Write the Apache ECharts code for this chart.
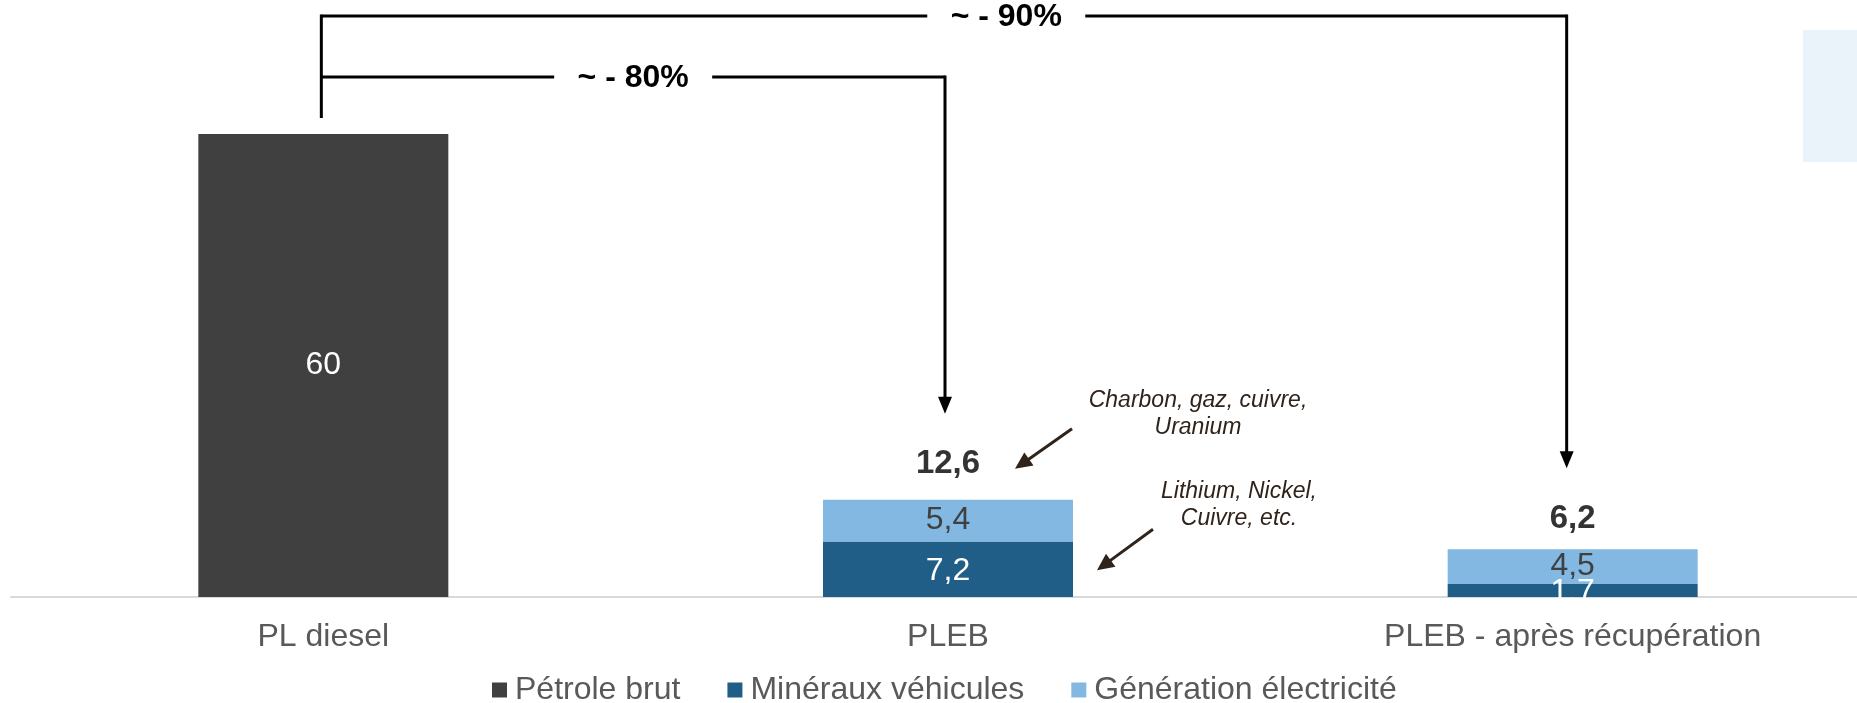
<!DOCTYPE html>
<html>
<head>
<meta charset="utf-8">
<script src="https://cdn.jsdelivr.net/npm/echarts@6/dist/echarts.min.js"></script>
<style>
  html, body { margin: 0; padding: 0; background: #fff; }
  #chart { width: 1857px; height: 703px; }
</style>
</head>
<body>
<div id="chart"></div>
<script>
  // données
  var categories = ['PL diesel', 'PLEB', 'PLEB - après récupération'];
  var petrole = [60, null, null];
  var mineraux = [null, 7.2, 1.7];
  var generation = [null, 5.4, 4.5];
  var totals = [null, 12.6, 6.2];
  var reductions = ['~ - 80%', '~ - 90%'];
  var noteGeneration = 'Charbon, gaz, cuivre,\nUranium';
  var noteMineraux = 'Lithium, Nickel,\nCuivre, etc.';

  var FONT = 'Liberation Sans, Arial, sans-serif';
  var chart = echarts.init(document.getElementById('chart'));

  function fr(v) {
    return String(v).replace('.', ',');
  }

  var option = {
    animation: false,
    textStyle: { fontFamily: FONT },
    // la dernière catégorie déborde à droite du cadre
    grid: { left: 11, right: -28, top: 134, bottom: 106, outerBoundsMode: 'none' },
    legend: {
      data: ['Pétrole brut', 'Minéraux véhicules', 'Génération électricité'],
      left: 487,
      top: 669,
      icon: 'rect',
      itemWidth: 15,
      itemHeight: 15,
      itemGap: 47,
      textStyle: { fontSize: 32, color: '#595959', fontFamily: FONT, padding: [0, 0, 0, 3] }
    },
    xAxis: {
      type: 'category',
      data: categories,
      axisLine: { lineStyle: { color: '#d9d9d9', width: 2 } },
      axisTick: { show: false },
      axisLabel: { fontSize: 32, color: '#595959', margin: 24, fontFamily: FONT }
    },
    yAxis: {
      type: 'value',
      min: 0,
      max: 60,
      show: false,
      splitLine: { show: false }
    },
    series: [
      {
        name: 'Pétrole brut',
        type: 'bar',
        stack: 'total',
        barWidth: 250,
        data: petrole,
        itemStyle: { color: '#404040' },
        label: { show: true, position: 'inside', color: '#fff', fontSize: 32, formatter: function (p) { return fr(p.value); } }
      },
      {
        name: 'Minéraux véhicules',
        type: 'bar',
        stack: 'total',
        barWidth: 250,
        data: mineraux,
        itemStyle: { color: '#205e87' },
        label: { show: true, position: 'inside', color: '#fff', fontSize: 32, offset: [0, 2], formatter: function (p) { return fr(p.value); } }
      },
      {
        name: 'Génération électricité',
        type: 'bar',
        stack: 'total',
        barWidth: 250,
        data: generation,
        itemStyle: { color: '#82b8e1' },
        label: { show: true, position: 'inside', color: '#404040', fontSize: 32, formatter: function (p) { return fr(p.value); } }
      },
      {
        name: 'Total',
        type: 'scatter',
        data: totals.map(function (v, i) {
          return { value: v, label: { distance: i === 2 ? 13 : 19 } };
        }),
        symbolSize: 1,
        itemStyle: { color: 'rgba(0,0,0,0)' },
        label: {
          show: true, position: 'top',
          color: '#000', fontSize: 33, fontWeight: 'bold',
          formatter: function (p) { return fr(p.value); }
        }
      }
    ]
  };
  chart.setOption(option);

  // flèches et accolades, placées à partir des axes
  function px(i, v) {
    return chart.convertToPixel({ xAxisIndex: 0, yAxisIndex: 0 }, [i, v]);
  }
  function head(tip, from, len, half, color) {
    var dx = tip[0] - from[0], dy = tip[1] - from[1];
    var d = Math.sqrt(dx * dx + dy * dy), ux = dx / d, uy = dy / d;
    var bx = tip[0] - ux * len, by = tip[1] - uy * len;
    return {
      type: 'polygon',
      shape: { points: [[tip[0], tip[1]], [bx - uy * half, by + ux * half], [bx + uy * half, by - ux * half]] },
      style: { fill: color }
    };
  }
  function seg(a, b, color, w) {
    return { type: 'line', shape: { x1: a[0], y1: a[1], x2: b[0], y2: b[1] }, style: { stroke: color, lineWidth: w } };
  }
  function arrow(from, tip, color, w, len, half) {
    var dx = tip[0] - from[0], dy = tip[1] - from[1];
    var d = Math.sqrt(dx * dx + dy * dy);
    var end = [tip[0] - dx / d * (len - 2), tip[1] - dy / d * (len - 2)];
    return [seg(from, end, color, w), head(tip, from, len, half, color)];
  }
  function label(text, x, y, size, extra) {
    var st = { text: text, x: x, y: y, align: 'center', verticalAlign: 'middle', fontSize: size, fontFamily: FONT, fill: '#000' };
    for (var k in extra) st[k] = extra[k];
    return { type: 'text', style: st };
  }

  var g = [];
  var x0 = px(0, 0)[0] - 2, x1 = px(1, 0)[0] - 3, x2 = px(2, 0)[0] - 6;
  var top0 = px(0, petrole[0])[1];
  var y90 = 16, y80 = 77, gap = 79;
  var tip1 = px(1, totals[1])[1] - 86, tip2 = px(2, totals[2])[1] - 81;
  var c80 = x0 + (x1 - x0) * 0.5, c90 = x0 + (x2 - x0) * 0.55;

  g.push(seg([x0, y90 - 1.5], [x0, top0 - 16], '#000', 3));
  g.push(seg([x0, y80], [c80 - gap, y80], '#000', 3));
  g.push(seg([c80 + gap, y80], [x1, y80], '#000', 3));
  g = g.concat(arrow([x1, y80 - 1.5], [x1, tip1], '#000', 3, 17, 7));
  g.push(seg([x0, y90], [c90 - gap, y90], '#000', 3));
  g.push(seg([c90 + gap, y90], [x2, y90], '#000', 3));
  g = g.concat(arrow([x2, y90 - 1.5], [x2, tip2], '#000', 3, 17, 7));
  g.push(label(reductions[0], c80, y80 + 1, 32, { fontWeight: 'bold' }));
  g.push(label(reductions[1], c90, y90 + 1, 32, { fontWeight: 'bold' }));

  // notes sur les segments de PLEB
  var cx = px(1, 0)[0];
  var topPleb = px(1, totals[1])[1];
  var midMin = px(1, mineraux[1] / 2)[1];
  var brown = '#30231a';
  g = g.concat(arrow([cx + 124, topPleb - 71], [cx + 67, topPleb - 31], brown, 3, 17, 8));
  g = g.concat(arrow([cx + 205, midMin - 40], [cx + 149, midMin + 1], brown, 3, 17, 8));
  g.push(label(noteGeneration, cx + 250, topPleb - 86, 23, { fontStyle: 'italic', fill: brown, lineHeight: 27 }));
  g.push(label(noteMineraux, cx + 291, midMin - 64, 23, { fontStyle: 'italic', fill: brown, lineHeight: 27 }));

  // encadré bleu clair coupé à droite
  g.push({ type: 'rect', shape: { x: 1803, y: 30, width: 60, height: 132 }, style: { fill: '#eaf2fa' } });

  chart.setOption({ graphic: g });
</script>
</body>
</html>
